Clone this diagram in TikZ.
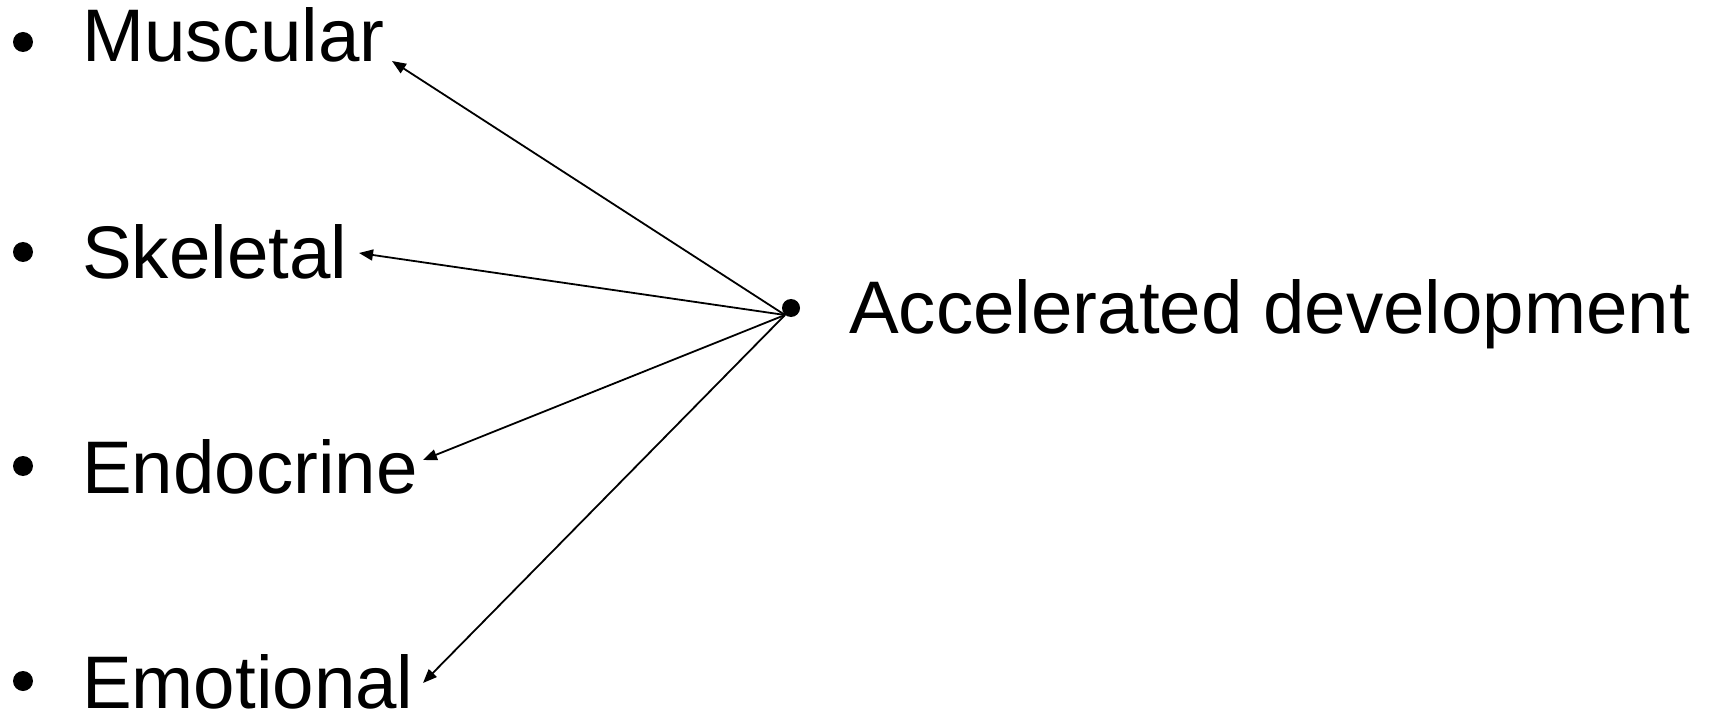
\documentclass[tikz,border=0pt]{standalone}
\usepackage{fontspec}
\setmainfont{Liberation Sans}
\usetikzlibrary{arrows.meta}
\begin{document}
\begin{tikzpicture}[x=1pt,y=-1pt,
  label text/.style={anchor=base west,inner sep=0pt,font=\fontsize{74.5}{80}\selectfont},
  bulletdot/.style={circle,fill=black,inner sep=0pt,minimum size=20pt},
  link/.style={line width=1.8pt,-{Triangle[length=14pt,width=11pt]}}]
\useasboundingbox (0,0) rectangle (1713,711);
% left-hand list
\node[bulletdot] (b1) at (23,42) {};
\node[label text] (mus) at (82,62) {Muscular};
\node[bulletdot] (b2) at (23,252) {};
\node[label text] (ske) at (82,279) {Skeletal};
\node[bulletdot] (b3) at (23,466) {};
\node[label text] (endo) at (82,493) {Endocrine};
\node[bulletdot] (b4) at (23,681) {};
\node[label text] (emo) at (82,708) {Emotional};
% right-hand item
\node[bulletdot,minimum size=18pt] (acc dot) at (791,308) {};
\node[label text] (acc) at (849,333) {Accelerated development};
% arrow origin and tips
\coordinate (src) at (785,315);
\coordinate (t1) at (392,61);
\coordinate (t2) at (359,253);
\coordinate (t3) at (423,460);
\coordinate (t4) at (423,683);
\draw[link] (src) -- (t1);
\draw[link] (src) -- (t2);
\draw[link] (src) -- (t3);
\draw[link] (src) -- (t4);
\end{tikzpicture}
\end{document}
